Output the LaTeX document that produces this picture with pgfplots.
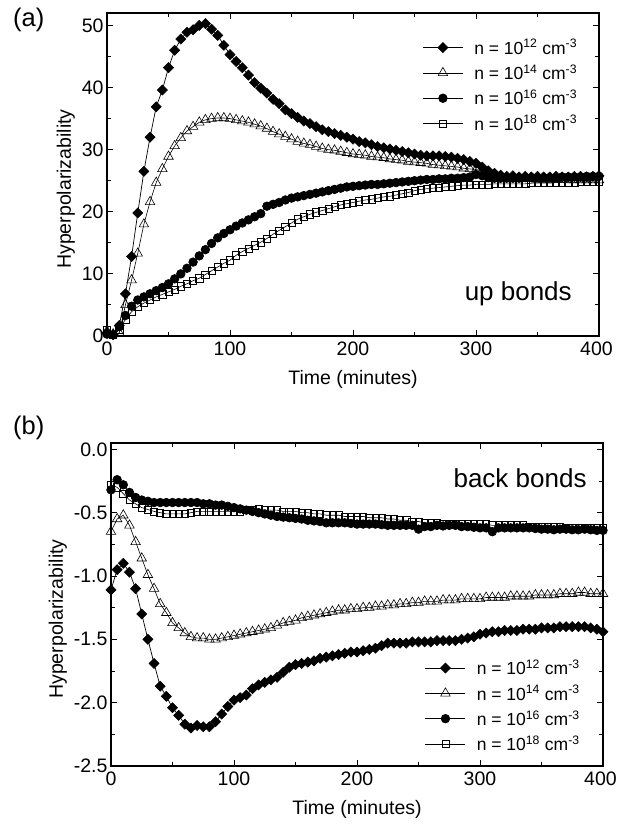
\documentclass[border=0pt]{standalone}
\usepackage{fontspec}
\setmainfont{Liberation Sans}
\usepackage{pgfplots}
\usepackage{pgfplotstable}
\pgfplotsset{compat=1.18}

% up bonds: time, n=1e12 (diamond), 1e14 (triangle), 1e16 (circle), 1e18 (square)
\pgfplotstableread{
t d tri c s
0 0.5 0.8 0.3 1.0
5 0.2 0.3 0.2 0.2
10 1.7 0.5 1.5 1.0
15 6.8 5.0 3.3 2.7
20 12.8 9.0 4.8 3.9
25 19.8 13.3 5.8 4.7
30 26.5 18.0 6.3 5.3
35 32.0 21.6 6.8 5.8
40 36.9 24.7 7.3 6.3
45 39.6 26.9 7.8 6.7
50 43.2 28.9 8.4 7.1
55 46.0 30.6 9.2 7.5
60 47.8 31.9 10.0 8.0
65 48.9 33.0 10.9 8.4
70 49.3 33.7 11.9 8.9
75 50.0 34.4 12.9 9.3
80 50.3 34.8 13.9 9.9
85 49.4 35.0 14.9 10.5
90 48.4 35.1 15.8 11.1
95 46.8 35.1 16.5 11.7
100 45.3 35.0 17.1 12.2
105 44.2 34.8 17.7 13.0
110 43.2 34.6 18.2 13.6
115 42.0 34.4 18.7 14.1
120 40.8 34.1 19.2 14.6
125 39.9 33.8 19.7 15.1
130 39.1 33.4 20.9 15.7
135 38.1 32.9 21.2 16.4
140 37.4 32.5 21.5 17.0
145 36.4 32.1 21.9 17.6
150 35.8 31.7 22.2 18.2
155 35.2 31.3 22.4 18.8
160 34.6 31.0 22.6 19.2
165 34.2 30.8 22.8 19.6
170 33.7 30.5 23.0 19.9
175 33.2 30.2 23.2 20.2
180 32.9 30.0 23.4 20.5
185 32.6 29.9 23.6 20.8
190 32.3 29.7 23.8 21.1
195 32.0 29.5 24.0 21.3
200 31.7 29.3 24.1 21.5
205 31.3 29.2 24.2 21.7
210 31.1 29.1 24.3 21.9
215 30.8 28.9 24.4 22.0
220 30.5 28.8 24.4 22.2
225 30.3 28.7 24.5 22.4
230 30.1 28.5 24.6 22.5
235 29.9 28.4 24.7 22.7
240 29.7 28.3 24.8 22.9
245 29.5 28.1 24.9 23.1
250 29.3 28.0 25.0 23.4
255 29.1 27.9 25.1 23.6
260 29.0 27.8 25.2 23.7
265 29.0 27.6 25.2 23.8
270 29.0 27.5 25.3 23.9
275 28.9 27.4 25.3 24.0
280 28.8 27.3 25.4 24.1
285 28.6 27.2 25.4 24.2
290 28.4 27.0 25.5 24.3
295 28.1 26.9 25.6 24.3
300 27.8 26.8 26.0 24.4
305 27.2 26.6 25.8 24.4
310 26.6 26.3 25.5 24.4
315 26.2 26.0 25.4 24.5
320 25.9 25.7 25.4 24.5
325 25.7 25.5 25.4 24.5
330 25.8 25.4 25.4 24.5
335 25.6 25.3 25.4 24.5
340 25.7 25.3 25.5 24.5
345 25.6 25.3 25.5 24.6
350 25.7 25.2 25.5 24.6
355 25.6 25.2 25.5 24.6
360 25.6 25.2 25.5 24.6
365 25.7 25.2 25.5 24.7
370 25.6 25.2 25.6 24.7
375 25.6 25.1 25.6 24.7
380 25.7 25.1 25.6 24.7
385 25.7 25.1 25.6 24.8
390 25.6 25.1 25.7 24.8
395 25.7 25.1 25.7 24.8
400 25.8 25.1 25.7 24.8
}\upbonds

% back bonds, same columns
\pgfplotstableread{
t d tri c s
0 -1.11 -0.65 -0.32 -0.28
5 -0.95 -0.55 -0.24 -0.30
10 -0.90 -0.52 -0.28 -0.35
15 -0.97 -0.60 -0.34 -0.40
20 -1.10 -0.73 -0.38 -0.43
25 -1.30 -0.86 -0.40 -0.46
30 -1.50 -0.99 -0.41 -0.475
35 -1.69 -1.10 -0.42 -0.49
40 -1.87 -1.22 -0.42 -0.50
45 -1.95 -1.29 -0.42 -0.51
50 -2.04 -1.37 -0.42 -0.51
55 -2.10 -1.41 -0.42 -0.51
60 -2.17 -1.45 -0.42 -0.51
65 -2.20 -1.48 -0.42 -0.50
70 -2.18 -1.49 -0.42 -0.49
75 -2.19 -1.49 -0.43 -0.49
80 -2.19 -1.50 -0.43 -0.49
85 -2.15 -1.50 -0.44 -0.49
90 -2.09 -1.49 -0.44 -0.49
95 -2.03 -1.48 -0.45 -0.49
100 -1.98 -1.47 -0.46 -0.49
105 -1.96 -1.46 -0.47 -0.49
110 -1.94 -1.45 -0.48 -0.48
115 -1.89 -1.44 -0.49 -0.48
120 -1.86 -1.43 -0.50 -0.47
125 -1.84 -1.42 -0.51 -0.48
130 -1.82 -1.41 -0.52 -0.48
135 -1.80 -1.39 -0.53 -0.48
140 -1.76 -1.37 -0.535 -0.49
145 -1.72 -1.36 -0.54 -0.49
150 -1.70 -1.35 -0.545 -0.49
155 -1.69 -1.33 -0.55 -0.50
160 -1.68 -1.32 -0.56 -0.50
165 -1.67 -1.31 -0.565 -0.51
170 -1.65 -1.30 -0.57 -0.51
175 -1.64 -1.29 -0.58 -0.52
180 -1.63 -1.28 -0.58 -0.52
185 -1.62 -1.27 -0.58 -0.52
190 -1.61 -1.27 -0.58 -0.53
195 -1.60 -1.26 -0.585 -0.53
200 -1.60 -1.26 -0.59 -0.53
205 -1.59 -1.25 -0.59 -0.53
210 -1.58 -1.25 -0.59 -0.54
215 -1.57 -1.24 -0.59 -0.54
220 -1.55 -1.24 -0.595 -0.54
225 -1.53 -1.23 -0.60 -0.55
230 -1.53 -1.23 -0.60 -0.55
235 -1.53 -1.22 -0.60 -0.56
240 -1.53 -1.22 -0.60 -0.56
245 -1.52 -1.21 -0.60 -0.57
250 -1.52 -1.21 -0.63 -0.57
255 -1.52 -1.20 -0.61 -0.58
260 -1.52 -1.20 -0.61 -0.58
265 -1.51 -1.20 -0.60 -0.58
270 -1.51 -1.19 -0.605 -0.59
275 -1.51 -1.19 -0.60 -0.59
280 -1.51 -1.19 -0.60 -0.59
285 -1.50 -1.18 -0.61 -0.59
290 -1.49 -1.18 -0.61 -0.59
295 -1.48 -1.18 -0.615 -0.59
300 -1.46 -1.18 -0.62 -0.59
305 -1.45 -1.17 -0.62 -0.59
310 -1.44 -1.17 -0.65 -0.60
315 -1.44 -1.17 -0.62 -0.60
320 -1.43 -1.17 -0.62 -0.60
325 -1.43 -1.16 -0.62 -0.60
330 -1.43 -1.16 -0.62 -0.60
335 -1.42 -1.16 -0.62 -0.60
340 -1.42 -1.16 -0.62 -0.61
345 -1.42 -1.15 -0.625 -0.61
350 -1.41 -1.15 -0.63 -0.61
355 -1.41 -1.15 -0.63 -0.61
360 -1.41 -1.15 -0.635 -0.61
365 -1.40 -1.14 -0.63 -0.61
370 -1.40 -1.14 -0.63 -0.62
375 -1.40 -1.14 -0.635 -0.62
380 -1.40 -1.13 -0.635 -0.62
385 -1.40 -1.13 -0.63 -0.62
390 -1.41 -1.14 -0.635 -0.62
395 -1.42 -1.14 -0.64 -0.62
400 -1.44 -1.14 -0.64 -0.62
}\backbonds

\pgfplotsset{
  hp/.style={
    scale only axis, width=492pt, height=323pt,
    xmin=0, xmax=400,
    xtick={0,100,200,300,400}, xticklabels={0,100,200,300,{\hspace*{-5pt}400}},
    minor x tick num=1, minor y tick num=1,
    axis line style={line width=1.1pt},
    every tick/.style={black, line width=0.9pt},
    major tick length=6pt, minor tick length=4pt,
    tick label style={font=\fontsize{19.5}{22}\selectfont},
    xticklabel style={yshift=-2pt},
    label style={font=\fontsize{19.5}{22}\selectfont},
    xlabel={Time (minutes)},
    xlabel style={yshift=-8pt},
    ylabel={Hyperpolarizability},
    ylabel style={at={(ticklabel cs:0.455)}},
    legend style={draw=none, fill=none, font=\fontsize{17.5}{20}\selectfont,
      row sep=5pt, column sep=9pt, inner sep=0pt, cells={anchor=west}},
    legend image code/.code={\draw[mark repeat=2, mark phase=2]
      plot coordinates {(0pt,0pt) (20pt,0pt) (40pt,0pt)};},
  },
  sD/.style={black, line width=0.7pt, mark=square*, mark size=3.6pt,
    mark options={solid, rotate=45, fill=black, line width=0.5pt}},
  sT/.style={black, line width=0.6pt, mark=triangle, mark size=5.5pt,
    mark options={solid, fill=white, line width=0.6pt}},
  sC/.style={black, line width=0.7pt, mark=*, mark size=4.3pt,
    mark options={solid, fill=black}},
  sS/.style={black, line width=0.6pt, mark=square, mark size=3.6pt,
    mark options={solid, fill=white, line width=0.6pt}},
}

\begin{document}
\begin{tikzpicture}
\useasboundingbox (-107pt,-494pt) rectangle (510pt,336pt);

\node[anchor=base west, inner sep=0pt, font=\fontsize{25.5}{28}\selectfont] at (-94pt,309.5pt) {(a)};
\node[anchor=base west, inner sep=0pt, font=\fontsize{25.5}{28}\selectfont] at (-94pt,-98.5pt) {(b)};

% (a) up bonds
\begin{axis}[hp, at={(0pt,0pt)}, anchor=south west,
  ymin=0, ymax=52,
  ytick={0,10,20,30,40,50}, yticklabels={0,10,20,30,40,50},
  legend style={at={(rel axis cs:0.96,0.925)}, anchor=north east}]
  \addlegendimage{sD}\addlegendentry{n = 10\textsuperscript{12} cm\textsuperscript{-3}}
  \addlegendimage{sT}\addlegendentry{n = 10\textsuperscript{14} cm\textsuperscript{-3}}
  \addlegendimage{sC}\addlegendentry{n = 10\textsuperscript{16} cm\textsuperscript{-3}}
  \addlegendimage{sS}\addlegendentry{n = 10\textsuperscript{18} cm\textsuperscript{-3}}
  \addplot[sS, forget plot] table[x=t, y=s] {\upbonds};
  \addplot[sT, forget plot] table[x=t, y=tri] {\upbonds};
  \addplot[sC, forget plot] table[x=t, y=c] {\upbonds};
  \addplot[sD, forget plot] table[x=t, y=d] {\upbonds};
  \node[anchor=base east, inner sep=0pt, font=\fontsize{26}{30}\selectfont]
    at (rel axis cs:0.945,0.111) {up bonds};
\end{axis}

% (b) back bonds
\begin{axis}[hp, at={(4pt,-430pt)}, anchor=south west,
  ymin=-2.5, ymax=0.05,
  ytick={-2.5,-2,-1.5,-1,-0.5,0}, yticklabels={-2.5,-2.0,-1.5,-1.0,-0.5,0.0},
  legend style={at={(rel axis cs:0.957,0.036)}, anchor=south east}]
  \addlegendimage{sD}\addlegendentry{n = 10\textsuperscript{12} cm\textsuperscript{-3}}
  \addlegendimage{sT}\addlegendentry{n = 10\textsuperscript{14} cm\textsuperscript{-3}}
  \addlegendimage{sC}\addlegendentry{n = 10\textsuperscript{16} cm\textsuperscript{-3}}
  \addlegendimage{sS}\addlegendentry{n = 10\textsuperscript{18} cm\textsuperscript{-3}}
  \addplot[sS, forget plot] table[x=t, y=s] {\backbonds};
  \addplot[sT, forget plot] table[x=t, y=tri] {\backbonds};
  \addplot[sC, forget plot] table[x=t, y=c] {\backbonds};
  \addplot[sD, forget plot] table[x=t, y=d] {\backbonds};
  \node[anchor=base east, inner sep=0pt, font=\fontsize{26}{30}\selectfont]
    at (rel axis cs:0.967,0.861) {back bonds};
\end{axis}
\end{tikzpicture}
\end{document}
